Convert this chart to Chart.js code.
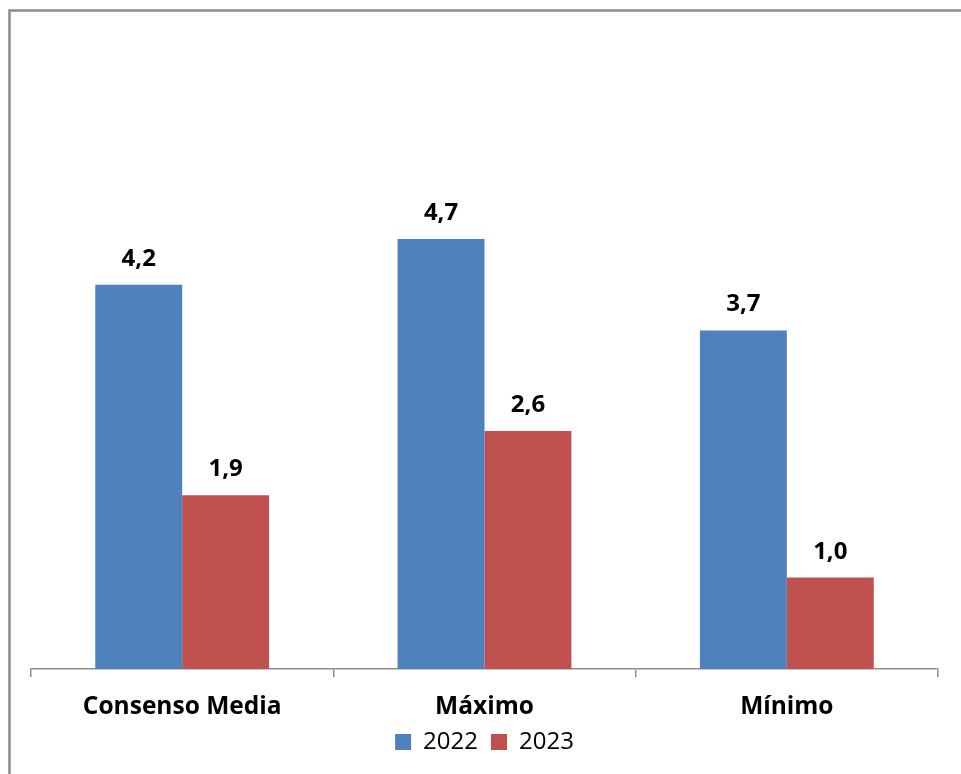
<!DOCTYPE html>
<html>
<head>
<meta charset="utf-8">
<script src="https://cdn.jsdelivr.net/npm/chart.js@4"></script>
<style>
html,body{margin:0;padding:0;background:#fff;}
#wrap{position:relative;width:961px;height:774px;}
</style>
</head>
<body>
<div id="wrap"><canvas id="c"></canvas></div>
<script>
const categories = ["Consenso Media", "Máximo", "Mínimo"];
const seriesNames = ["2022", "2023"];
const values2022 = [4.2, 4.7, 3.7];
const values2023 = [1.9, 2.6, 1.0];

const FONT = "'Open Sans', 'Liberation Sans', sans-serif";

const framePlugin = {
  id: 'frame',
  beforeDraw(chart) {
    const ctx = chart.ctx;
    ctx.save();
    ctx.fillStyle = '#ffffff';
    ctx.fillRect(0, 0, chart.width, chart.height);
    ctx.strokeStyle = '#8c8c8c';
    ctx.lineWidth = 2.5;
    ctx.beginPath();
    ctx.moveTo(9.5, chart.height + 5);
    ctx.lineTo(9.5, 10.5);
    ctx.lineTo(chart.width + 5, 10.5);
    ctx.stroke();
    ctx.restore();
  }
};

const labelPlugin = {
  id: 'valueLabels',
  afterDatasetsDraw(chart) {
    const ctx = chart.ctx;
    ctx.save();
    ctx.font = "bold 24px " + FONT;
    ctx.fillStyle = '#000';
    ctx.textAlign = 'center';
    ctx.textBaseline = 'alphabetic';
    chart.data.datasets.forEach((ds, di) => {
      const meta = chart.getDatasetMeta(di);
      meta.data.forEach((bar, i) => {
        const txt = ds.data[i].toFixed(1).replace('.', ',');
        ctx.fillText(txt, bar.x, bar.y - 19);
      });
    });
    ctx.restore();
  }
};

new Chart(document.getElementById('c'), {
  type: 'bar',
  data: {
    labels: categories,
    datasets: [
      { label: seriesNames[0], data: values2022, backgroundColor: '#4F81BD', borderWidth: 0 },
      { label: seriesNames[1], data: values2023, backgroundColor: '#C0504D', borderWidth: 0 }
    ]
  },
  options: {
    responsive: true,
    maintainAspectRatio: false,
    animation: false,
    devicePixelRatio: 1,
    layout: { padding: { left: 31, right: 23, top: 120, bottom: 10 } },
    datasets: { bar: { categoryPercentage: 0.575, barPercentage: 1.0 } },
    scales: {
      x: {
        offset: true,
        grid: {
          offset: true,
          display: true,
          drawOnChartArea: false,
          drawTicks: true,
          tickLength: 8,
          color: '#8e8e8e',
          lineWidth: 1.5
        },
        border: { display: true, color: '#8e8e8e', width: 1.5 },
        ticks: {
          color: '#000',
          padding: 20,
          font: { family: FONT, size: 24.5, weight: 'bold', lineHeight: 0.8 }
        },
        afterFit(scale) { scale.height = 48; }
      },
      y: {
        display: false,
        min: 0,
        max: 6
      }
    },
    plugins: {
      legend: {
        position: 'bottom',
        labels: {
          color: '#000',
          boxWidth: 16,
          boxHeight: 16,
          padding: 13,
          font: { family: FONT, size: 24 }
        }
      },
      tooltip: { enabled: false }
    }
  },
  plugins: [framePlugin, labelPlugin]
});
</script>
</body>
</html>
